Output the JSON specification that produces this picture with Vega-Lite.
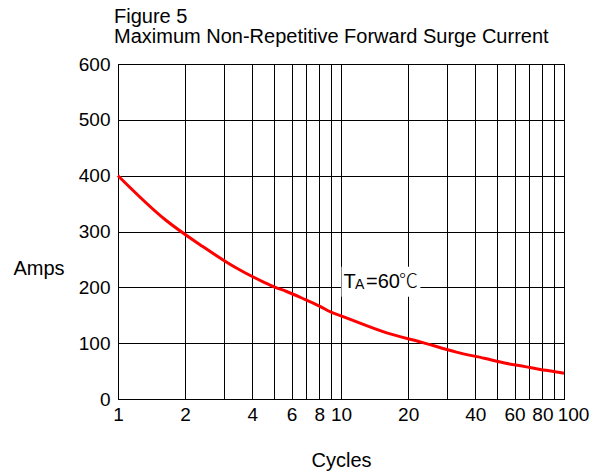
{
  "$schema": "https://vega.github.io/schema/vega-lite/v6.json",
  "width": 446,
  "height": 335,
  "autosize": {"type": "none"},
  "padding": {"left": 118, "top": 64, "right": 35, "bottom": 77},
  "background": "white",
  "title": {
    "text": "Figure 5",
    "subtitle": "Maximum Non-Repetitive Forward Surge Current",
    "anchor": "start",
    "frame": "group",
    "fontSize": 20,
    "fontWeight": "normal",
    "font": "Liberation Sans",
    "color": "black",
    "subtitleFont": "Liberation Sans",
    "subtitleFontSize": 20,
    "subtitleColor": "black",
    "subtitlePadding": 0,
    "offset": 8,
    "dx": -4
  },
  "config": {
    "view": {"stroke": "black", "strokeWidth": 1},
    "font": "Liberation Sans",
    "axis": {
      "ticks": false,
      "grid": true,
      "gridColor": "black",
      "gridOpacity": 1,
      "gridWidth": 1,
      "domainColor": "black",
      "domainWidth": 1,
      "labelFont": "Liberation Sans",
      "labelFontSize": 19,
      "labelColor": "black",
      "labelOverlap": false,
      "labelFlush": false,
      "titleFont": "Liberation Sans",
      "titleFontSize": 20,
      "titleFontWeight": "normal",
      "titleColor": "black"
    }
  },
  "datasets": {
    "curve": [
      {"cycles": 1, "amps": 400},
      {"cycles": 1.63, "amps": 321},
      {"cycles": 2.4, "amps": 273},
      {"cycles": 3.38, "amps": 235},
      {"cycles": 4.52, "amps": 209},
      {"cycles": 5.08, "amps": 200},
      {"cycles": 5.67, "amps": 193},
      {"cycles": 6.92, "amps": 178},
      {"cycles": 8.05, "amps": 166},
      {"cycles": 8.98, "amps": 156},
      {"cycles": 10, "amps": 149},
      {"cycles": 15.9, "amps": 119},
      {"cycles": 23.3, "amps": 101},
      {"cycles": 32.9, "amps": 84},
      {"cycles": 43.9, "amps": 73},
      {"cycles": 54.9, "amps": 64},
      {"cycles": 67, "amps": 58},
      {"cycles": 78.2, "amps": 53},
      {"cycles": 87.6, "amps": 50},
      {"cycles": 100, "amps": 46}
    ],
    "note": [
      {"label_x": 10, "label_y": 198, "box_x0": 10.05, "box_x1": 22.7, "box_y0": 183, "box_y1": 237}
    ]
  },
  "layer": [
    {
      "data": {"name": "curve"},
      "mark": {"type": "line", "color": "#ff0000", "strokeWidth": 3, "interpolate": "monotone"},
      "encoding": {
        "x": {
          "field": "cycles",
          "type": "quantitative",
          "title": "Cycles",
          "scale": {"type": "log", "domain": [1, 100], "nice": false},
          "axis": {
            "values": [1, 2, 3, 4, 5, 6, 7, 8, 9, 10, 20, 30, 40, 50, 60, 70, 80, 90, 100],
            "labelExpr": "indexof([1,2,4,6,8,10,20,40,60,80,100], datum.value) >= 0 ? format(datum.value, 'd') : ''",
            "labelAngle": 0,
            "labelBaseline": "alphabetic",
            "labelPadding": 21,
            "labelOffset": {"condition": {"test": "datum.value == 100", "value": 9}, "value": 0},
            "titleBaseline": "alphabetic",
            "titleY": 67
          }
        },
        "y": {
          "field": "amps",
          "type": "quantitative",
          "title": "Amps",
          "scale": {"domain": [0, 600], "nice": false},
          "axis": {
            "values": [0, 100, 200, 300, 400, 500, 600],
            "labelPadding": 8,
            "titleAngle": 0,
            "titleAlign": "left",
            "titleBaseline": "middle",
            "titleX": -105,
            "titleY": 204
          }
        }
      }
    },
    {
      "data": {"name": "note"},
      "mark": {"type": "rect", "fill": "white"},
      "encoding": {
        "x": {"field": "box_x0", "type": "quantitative", "title": "Cycles", "scale": {"type": "log", "domain": [1, 100], "nice": false}},
        "x2": {"field": "box_x1"},
        "y": {"field": "box_y0", "type": "quantitative", "title": "Amps", "scale": {"domain": [0, 600], "nice": false}},
        "y2": {"field": "box_y1"}
      }
    },
    {
      "data": {"name": "note"},
      "mark": {"type": "text", "text": "T", "align": "left", "baseline": "alphabetic", "dx": 2.5, "fontSize": 20, "font": "Liberation Sans", "color": "black"},
      "encoding": {
        "x": {"field": "label_x", "type": "quantitative", "title": "Cycles", "scale": {"type": "log", "domain": [1, 100], "nice": false}},
        "y": {"field": "label_y", "type": "quantitative", "title": "Amps", "scale": {"domain": [0, 600], "nice": false}}
      }
    },
    {
      "data": {"name": "note"},
      "mark": {"type": "text", "text": "A", "align": "left", "baseline": "alphabetic", "dx": 14, "dy": 1, "fontSize": 14, "font": "Liberation Sans", "color": "black"},
      "encoding": {
        "x": {"field": "label_x", "type": "quantitative", "title": "Cycles", "scale": {"type": "log", "domain": [1, 100], "nice": false}},
        "y": {"field": "label_y", "type": "quantitative", "title": "Amps", "scale": {"domain": [0, 600], "nice": false}}
      }
    },
    {
      "data": {"name": "note"},
      "mark": {"type": "text", "text": "=60", "align": "left", "baseline": "alphabetic", "dx": 25, "fontSize": 20, "font": "Liberation Sans", "color": "black"},
      "encoding": {
        "x": {"field": "label_x", "type": "quantitative", "title": "Cycles", "scale": {"type": "log", "domain": [1, 100], "nice": false}},
        "y": {"field": "label_y", "type": "quantitative", "title": "Amps", "scale": {"domain": [0, 600], "nice": false}}
      }
    },
    {
      "data": {"name": "note"},
      "mark": {"type": "text", "text": "℃", "align": "left", "baseline": "alphabetic", "dx": 58, "fontSize": 19, "font": "Noto Sans CJK SC", "fontWeight": 300, "color": "black"},
      "encoding": {
        "x": {"field": "label_x", "type": "quantitative", "title": "Cycles", "scale": {"type": "log", "domain": [1, 100], "nice": false}},
        "y": {"field": "label_y", "type": "quantitative", "title": "Amps", "scale": {"domain": [0, 600], "nice": false}}
      }
    }
  ]
}
